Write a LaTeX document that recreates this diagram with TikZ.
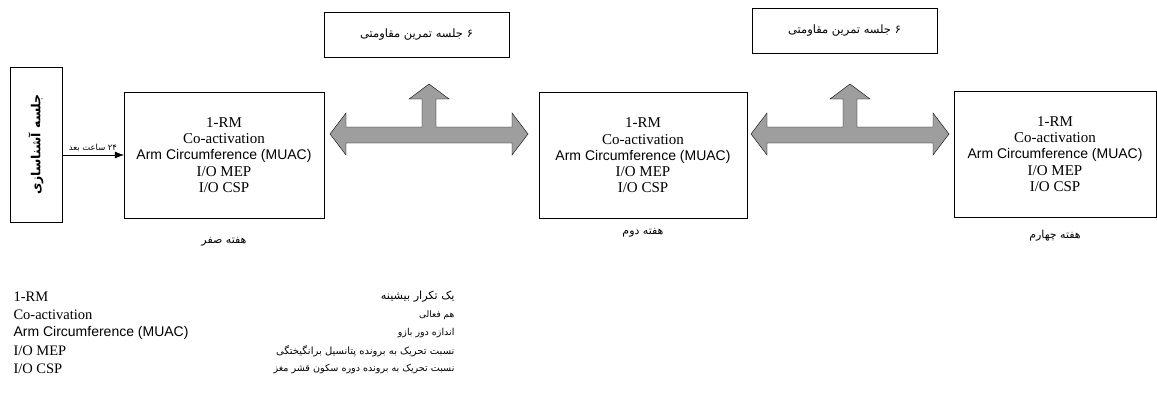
\documentclass[tikz,border=0pt]{standalone}
\usepackage{fontspec}
\setmainfont{Liberation Serif}
\newfontfamily\arialfont{Liberation Sans}
\newfontfamily\farsifont[Script=Arabic]{DejaVu Sans}
\TeXXeTstate=1
\newcommand{\fa}[1]{{\farsifont\beginR #1\endR}}
\usetikzlibrary{arrows.meta}

\begin{document}
\begin{tikzpicture}[x=1pt,y=-1pt,
  weekbox/.style={draw, minimum height=126pt, align=center, font=\fontsize{15}{16.3}\selectfont},
  sessionbox/.style={draw, minimum width=185pt, minimum height=45pt, font=\fontsize{11.5}{13}\selectfont},
  weeklabel/.style={font=\fontsize{11}{12}\selectfont},
  blockarrow/.style={draw, fill=black!38, line join=miter}]
\useasboundingbox (0,0) rectangle (1157,396);

\node[draw, minimum width=52pt, minimum height=155pt] (ashna) at (36,144.5)
  {\rotatebox{90}{\fontsize{12.5}{14}\selectfont\bfseries\fa{جلسه آشناسازی}}};

\node[weekbox, minimum width=200pt] (week0) at (224,155) {1-RM\\Co-activation\\{\arialfont\fontsize{14}{16.3}\selectfont Arm Circumference (MUAC)}\\I/O MEP\\I/O CSP};
\node[weekbox, minimum width=208pt] (week2) at (643,155.5) {1-RM\\Co-activation\\{\arialfont\fontsize{14}{16.3}\selectfont Arm Circumference (MUAC)}\\I/O MEP\\I/O CSP};
\node[weekbox, minimum width=202pt] (week4) at (1055,154) {1-RM\\Co-activation\\{\arialfont\fontsize{14}{16.3}\selectfont Arm Circumference (MUAC)}\\I/O MEP\\I/O CSP};

\node[sessionbox] (train1) at (416.5,34.5) {\fa{۶ جلسه تمرین مقاومتی}};
\node[sessionbox] (train2) at (844.5,30.5) {\fa{۶ جلسه تمرین مقاومتی}};

\node[weeklabel] (lab0) at (224,242) {\fa{هفته صفر}};
\node[weeklabel] (lab2) at (643,233) {\fa{هفته دوم}};
\node[weeklabel] (lab4) at (1055,236) {\fa{هفته چهارم}};

\draw[-{Latex[length=9pt,width=7pt]}] (ashna.east |- week0.west) -- node[above, font=\fontsize{8.4}{9}\selectfont] (after24) {\fa{۲۴ ساعت بعد}} (week0.west);

\foreach \cx/\xa/\xb in {429/330/528, 850/751/949}
  \draw[blockarrow] (\xa,134) -- (\xa+16,113) -- (\xa+16,127) -- (\cx-7,127) -- (\cx-7,99)
    -- (\cx-20,99) -- (\cx,84) -- (\cx+20,99) -- (\cx+7,99) -- (\cx+7,127) -- (\xb-16,127)
    -- (\xb-16,113) -- (\xb,134) -- (\xb-16,155) -- (\xb-16,143) -- (\xa+16,143)
    -- (\xa+16,155) -- cycle;

% legend
\node[anchor=west, font=\fontsize{14.5}{15}\selectfont] (rm) at (10,297) {1-RM};
\node[anchor=west, font=\fontsize{14.5}{15}\selectfont] (coact) at (10,315) {Co-activation};
\node[anchor=west, font=\arialfont\fontsize{14}{15}\selectfont] (muac) at (10,333) {Arm Circumference (MUAC)};
\node[anchor=west, font=\fontsize{14.5}{15}\selectfont] (mep) at (10,351) {I/O MEP};
\node[anchor=west, font=\fontsize{14.5}{15}\selectfont] (csp) at (10,369) {I/O CSP};

\node[anchor=east, font=\fontsize{11.2}{12}\selectfont] (rmfa) at (458,297) {\fa{یک تکرار بیشینه}};
\node[anchor=east, font=\fontsize{9}{12}\selectfont] (coactfa) at (458,315) {\fa{هم فعالی}};
\node[anchor=east, font=\fontsize{9.5}{12}\selectfont] (muacfa) at (458,333) {\fa{اندازه دور بازو}};
\node[anchor=east, font=\fontsize{10}{12}\selectfont] (mepfa) at (458,351) {\fa{نسبت تحریک به برونده پتانسیل برانگیختگی}};
\node[anchor=east, font=\fontsize{9.6}{12}\selectfont] (cspfa) at (458,369) {\fa{نسبت تحریک به برونده دوره سکون قشر مغز}};
\end{tikzpicture}
\end{document}
